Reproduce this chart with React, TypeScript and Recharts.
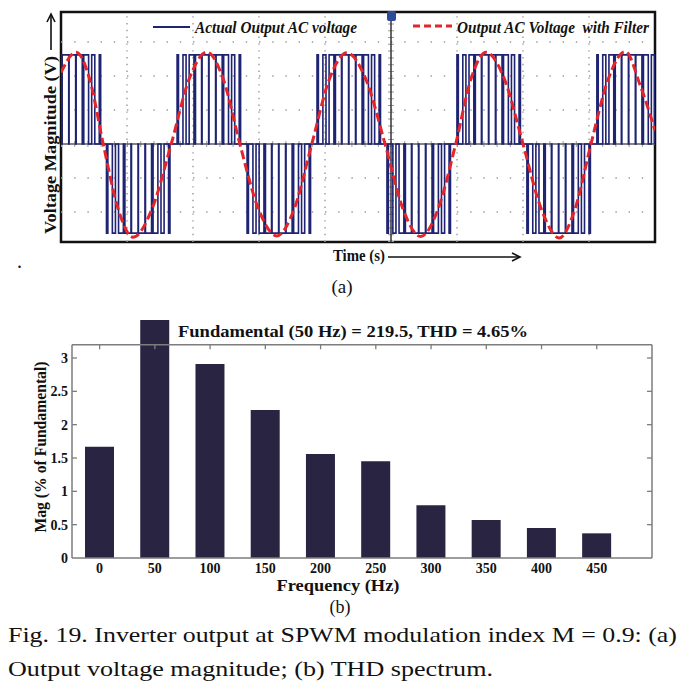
import {
  Bar,
  BarChart,
  Line,
  LineChart,
  ReferenceArea,
  ReferenceLine,
  XAxis,
  YAxis,
} from "recharts";

const SERIF = "'Liberation Serif', Tinos, 'Times New Roman', Times, serif";

// (a) filtered output (time in ms, volts in grid divisions)
const filterTime = [
  0, 2.3, 4.35, 6.4, 8.65, 10.9, 13.8, 16.7, 19.4, 22.1, 24.6, 27.1, 29.9, 32.7,
  35.35, 38.0, 40.65, 43.3, 46.2, 49.1, 51.8, 54.5, 57.15, 59.8, 62.1, 64.4, 67.2,
  70.0, 72.75, 75.5, 77.9, 80.3, 82.9, 85.5, 87.8, 90,
];
const filterVolt = [
  2.1, 2.7, 1.9, 0, -1.9, -2.74, -1.9, 0, 1.9, 2.7, 1.9, 0, -1.9, -2.7, -1.9, 0,
  1.9, 2.68, 1.9, 0, -1.9, -2.72, -1.9, 0, 1.9, 2.7, 1.9, 0, -1.9, -2.76, -1.9, 0,
  1.9, 2.72, 1.7, 0.4,
];

// (a) raw SPWM output: half-cycle centres, polarity and the pulse edges inside one half-cycle
const halfCentres = [1.2, 11.7, 22.4, 33.0, 43.6, 54.2, 64.8, 75.4, 86.0];
const halfSigns = [1, -1, 1, -1, 1, -1, 1, -1, 1];
const pwmLevel = 2.62;
const pulseEdges: [number, number][] = [
  [-4.81, -4.6],
  [-3.92, -3.45],
  [-2.98, -2.25],
  [-2.02, -1.1],
  [-1.02, -0.03],
  [0.03, 1.02],
  [1.1, 2.02],
  [2.25, 2.98],
  [3.45, 3.92],
  [4.6, 4.81],
];

const hGrid = [-2, -1, 1, 2, 3];
const vGrid = [10, 20, 30, 40, 60, 70, 80];

// (b) THD spectrum
const freqs = [0, 50, 100, 150, 200, 250, 300, 350, 400, 450];
const mags = [1.67, 3.57, 2.91, 2.22, 1.56, 1.45, 0.79, 0.57, 0.45, 0.37];
const magTicks = [0, 0.5, 1, 1.5, 2, 2.5, 3];

const filterData = filterTime.map((t, i) => ({ t, v: filterVolt[i] }));

const pwmData: { t: number; v: number }[] = [];
halfCentres.forEach((c, i) => {
  const level = halfSigns[i] * pwmLevel;
  pulseEdges.forEach(([a, b]) => {
    const on = Math.max(0, c + a);
    const off = Math.min(90, c + b);
    if (off <= on) return;
    pwmData.push({ t: on, v: 0 }, { t: on, v: level }, { t: off, v: level }, { t: off, v: 0 });
  });
});

const spectrum = freqs.map((f, i) => ({ f, mag: mags[i] }));

const frameGray = "#7d7d7d";
const tickStyle = { fill: "#111", fontWeight: 700, fontSize: 14, style: { fontFamily: SERIF } };

function ScopeChart() {
  return (
    <LineChart
      width={684}
      height={260}
      margin={{ top: 12, right: 29, bottom: 18, left: 61 }}
    >
      <XAxis type="number" dataKey="t" domain={[0, 90]} hide allowDataOverflow />
      <YAxis type="number" domain={[-2.88, 3.88]} hide allowDataOverflow />
      {hGrid.map((y) => (
        <ReferenceLine
          key={"h" + y}
          y={y}
          stroke="#9a9a9a"
          strokeWidth={1.4}
          strokeDasharray="1.4 11.8"
        />
      ))}
      {vGrid.map((x) => (
        <ReferenceLine
          key={"v" + x}
          x={x}
          stroke="#9a9a9a"
          strokeWidth={1.4}
          strokeDasharray="1.4 5.4"
        />
      ))}
      <ReferenceLine y={0} stroke="#9a9a9a" strokeWidth={6} strokeDasharray="1 12.2" />
      <ReferenceLine x={50} stroke="#9a9a9a" strokeWidth={6} strokeDasharray="1 5.8" />
      <ReferenceLine y={0} stroke="#5a5a5a" strokeWidth={1.6} />
      <ReferenceLine x={50} stroke="#333" strokeWidth={1.5} />
      <Line
        data={pwmData}
        dataKey="v"
        type="linear"
        stroke="#1f2472"
        strokeWidth={1.6}
        dot={false}
        isAnimationActive={false}
      />
      <Line
        data={filterData}
        dataKey="v"
        type="monotone"
        stroke="#e2262b"
        strokeWidth={3}
        strokeDasharray="9 4"
        dot={false}
        isAnimationActive={false}
      />
      <ReferenceArea
        x1={0}
        x2={90}
        y1={-2.88}
        y2={3.88}
        fill="none"
        fillOpacity={0}
        stroke="#111"
        strokeWidth={2.5}
        ifOverflow="visible"
      />
    </LineChart>
  );
}

function SpectrumChart() {
  return (
    <BarChart
      width={684}
      height={300}
      data={spectrum}
      margin={{ top: 18, right: 32, bottom: 12, left: 0 }}
    >
      <XAxis
        type="number"
        dataKey="f"
        domain={[-25, 500]}
        ticks={freqs}
        height={30}
        axisLine={{ stroke: frameGray, strokeWidth: 1.5 }}
        tickLine={false}
        tickSize={0}
        tickMargin={5}
        tick={tickStyle}
        allowDataOverflow
      />
      <YAxis
        type="number"
        domain={[0, 3.6]}
        ticks={magTicks}
        width={72}
        axisLine={false}
        tickLine={false}
        tickSize={0}
        tickMargin={4}
        tick={tickStyle}
        allowDataOverflow
      />
      <ReferenceLine
        segment={[{ x: -25, y: 3.2 }, { x: 500, y: 3.2 }]}
        stroke={frameGray}
        strokeWidth={1.5}
        ifOverflow="visible"
      />
      <ReferenceLine
        segment={[{ x: -25, y: 0 }, { x: -25, y: 3.2 }]}
        stroke={frameGray}
        strokeWidth={1.5}
        ifOverflow="visible"
      />
      <ReferenceLine
        segment={[{ x: 500, y: 0 }, { x: 500, y: 3.2 }]}
        stroke={frameGray}
        strokeWidth={1.5}
        ifOverflow="visible"
      />
      {freqs.map((f) => (
        <ReferenceLine
          key={"t" + f}
          segment={[{ x: f, y: 3.2 }, { x: f, y: 3.13 }]}
          stroke={frameGray}
          strokeWidth={1.3}
          ifOverflow="visible"
        />
      ))}
      {magTicks.slice(1).map((m) => (
        <ReferenceLine
          key={"r" + m}
          segment={[{ x: 500, y: m }, { x: 495.5, y: m }]}
          stroke={frameGray}
          strokeWidth={1.3}
          ifOverflow="visible"
        />
      ))}
      {magTicks.slice(1).map((m) => (
        <ReferenceLine
          key={"l" + m}
          segment={[{ x: -25, y: m }, { x: -20.5, y: m }]}
          stroke={frameGray}
          strokeWidth={1.3}
          ifOverflow="visible"
        />
      ))}
      <Bar dataKey="mag" barSize={29} fill="#2a2443" isAnimationActive={false} />
    </BarChart>
  );
}

export default function App() {
  const font = { fontFamily: SERIF };
  const bold = { fontWeight: 700, fill: "#111", style: font } as const;
  const plain = { fill: "#111", style: font } as const;
  return (
    <div
      style={{
        position: "absolute",
        left: 0,
        top: 0,
        width: 684,
        height: 688,
        background: "#fff",
        overflow: "hidden",
        fontFamily: SERIF,
      }}
    >
      <div style={{ position: "absolute", left: 0, top: 0 }}>
        <ScopeChart />
      </div>
      <div style={{ position: "absolute", left: 0, top: 300 }}>
        <SpectrumChart />
      </div>
      <svg
        width={684}
        height={688}
        style={{ position: "absolute", left: 0, top: 0, pointerEvents: "none" }}
      >
        {/* (a) legend */}
        <line x1={153} y1={27} x2={190} y2={27} stroke="#1f2472" strokeWidth={2.2} />
        <text
          x={195}
          y={33}
          fontSize={17}
          fontStyle="italic"
          textLength={162}
          lengthAdjust="spacingAndGlyphs"
          {...bold}
        >
          Actual Output AC voltage
        </text>
        <line
          x1={413}
          y1={26}
          x2={452}
          y2={26}
          stroke="#e2262b"
          strokeWidth={3}
          strokeDasharray="7 4"
        />
        <text
          x={457}
          y={33}
          fontSize={17}
          fontStyle="italic"
          textLength={192}
          lengthAdjust="spacingAndGlyphs"
          fontWeight={700}
          fill="#111"
          style={{ ...font, whiteSpace: "pre" }}
        >
          {"Output AC Voltage  with Filter"}
        </text>
        {/* cursor marker */}
        <rect x={387} y={11} width={9} height={10} rx={2} fill="#2d4a96" />
        {/* (a) axis labels */}
        <text
          transform="translate(50,145) rotate(-90)"
          textAnchor="middle"
          dominantBaseline="central"
          fontSize={17}
          textLength={178}
          lengthAdjust="spacingAndGlyphs"
          {...bold}
        >
          Voltage Magnitude (V)
        </text>
        <line x1={51} y1={50} x2={51} y2={15} stroke="#111" strokeWidth={1.6} />
        <polyline points="47,22 51,14 55,22" fill="none" stroke="#111" strokeWidth={1.6} />
        <text x={333} y={261} fontSize={17} textLength={52} lengthAdjust="spacingAndGlyphs" {...bold}>
          Time (s)
        </text>
        <line x1={388} y1={257} x2={519} y2={257} stroke="#111" strokeWidth={1.6} />
        <polyline points="512,253 520,257 512,261" fill="none" stroke="#111" strokeWidth={1.6} />
        <text x={17} y={268} fontSize={20} {...plain}>
          .
        </text>
        <text x={342} y={293} fontSize={19} textAnchor="middle" {...plain}>
          (a)
        </text>
        {/* (b) labels */}
        <text x={178} y={337} fontSize={16} textLength={350} lengthAdjust="spacingAndGlyphs" {...bold}>
          Fundamental (50 Hz) = 219.5, THD = 4.65%
        </text>
        <text
          transform="translate(40,447) rotate(-90)"
          textAnchor="middle"
          dominantBaseline="central"
          fontSize={17}
          textLength={171}
          lengthAdjust="spacingAndGlyphs"
          {...bold}
        >
          Mag (% of Fundamental)
        </text>
        <text
          x={338}
          y={591}
          fontSize={17}
          textAnchor="middle"
          textLength={123}
          lengthAdjust="spacingAndGlyphs"
          {...bold}
        >
          Frequency (Hz)
        </text>
        <text x={340} y={613} fontSize={18} textAnchor="middle" {...plain}>
          (b)
        </text>
        {/* caption */}
        <text x={8} y={642} fontSize={22} textLength={669} lengthAdjust="spacingAndGlyphs" {...plain}>
          Fig. 19. Inverter output at SPWM modulation index M = 0.9: (a)
        </text>
        <text x={8} y={676} fontSize={22} textLength={485} lengthAdjust="spacingAndGlyphs" {...plain}>
          Output voltage magnitude; (b) THD spectrum.
        </text>
      </svg>
    </div>
  );
}
